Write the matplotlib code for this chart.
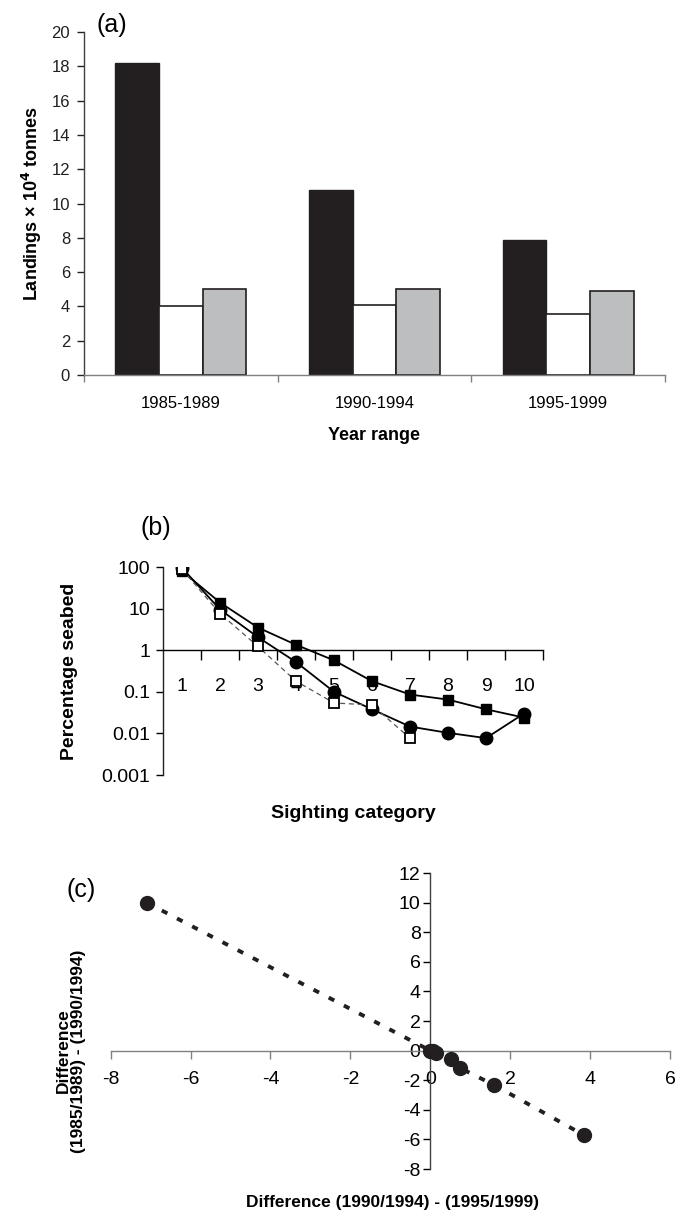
import matplotlib
matplotlib.use("Agg")
import matplotlib.pyplot as plt
import numpy as np
from matplotlib import font_manager
from matplotlib.ticker import FixedLocator, NullLocator, FixedFormatter

_names = {f.name for f in font_manager.fontManager.ttflist}
NARROW = "Liberation Sans Narrow" if "Liberation Sans Narrow" in _names else "Liberation Sans"

plt.rcParams.update(
    {
        "font.family": ["Liberation Sans", "DejaVu Sans"],
        "axes.spines.top": False,
        "axes.spines.right": False,
        "axes.linewidth": 1.0,
        "axes.unicode_minus": False,
    }
)

# (a) landings by period
periods = ["1985-1989", "1990-1994", "1995-1999"]
landings_black = [18.2, 10.8, 7.9]
landings_white = [4.0, 4.1, 3.55]
landings_grey = [5.0, 5.0, 4.9]

# (b) percentage seabed per sighting category
categories = list(range(1, 11))
seabed_filled_sq = [80, 14, 3.5, 1.35, 0.57, 0.18, 0.086, 0.065, 0.038, 0.024]
seabed_circle = [95, 9.5, 2.05, 0.52, 0.1, 0.038, 0.0146, 0.0103, 0.0077, 0.03]
seabed_open_sq = [88, 7.6, 1.23, 0.18, 0.054, 0.048, 0.0077]

# (c) differences between periods
diff_x = [-7.1, 0.0, 0.06, 0.14, 0.52, 0.74, 1.6, 3.85]
diff_y = [10.0, 0.0, -0.05, -0.18, -0.58, -1.17, -2.33, -5.72]

W, H = 686, 1212
fig = plt.figure(figsize=(W / 100, H / 100), dpi=100)


def rect(left, top, right, bottom):
    return [left / W, 1 - bottom / H, (right - left) / W, (bottom - top) / H]


# ---------------- (a) ----------------
ax = fig.add_axes(rect(84, 32, 665, 375))
x = np.arange(len(periods))
w = 0.225
ax.bar(x - w, landings_black, w, color="#231f20", edgecolor="#231f20", linewidth=1)
ax.bar(x, landings_white, w, color="white", edgecolor="#231f20", linewidth=1.2)
ax.bar(x + w, landings_grey, w, color="#bcbec0", edgecolor="#231f20", linewidth=1.2)
ax.set_xlim(-0.5, 2.5)
ax.set_ylim(0, 20)
ax.set_yticks(np.arange(0, 21, 2))
ax.tick_params(axis="y", direction="out", length=5, width=1, pad=5,
               labelsize=12, colors="#231f20")
ax.set_xticks(x)
ax.set_xticklabels(periods)
ax.xaxis.set_minor_locator(FixedLocator([-0.5, 0.5, 1.5, 2.5]))
ax.tick_params(axis="x", which="major", length=0, pad=15, labelsize=12)
ax.tick_params(axis="x", which="minor", length=5, width=1, color="#808080")
ax.spines["left"].set_color("#404040")
ax.spines["bottom"].set_color("#808080")
ax.set_ylabel("Landings \u00d7 10$^{\\mathbf{4}}$ tonnes", fontsize=13,
              fontweight="bold", va="center")
ax.yaxis.set_label_coords(-0.089, 0.5)
ax.set_xlabel("Year range", fontsize=13, fontweight="bold", va="center")
ax.xaxis.set_label_coords(0.5, -0.175)
fig.text(112 / W, 1 - 25 / H, "(a)", fontsize=18, ha="center", va="center")

# ---------------- (b) ----------------
ax = fig.add_axes(rect(163, 567, 543, 775))
ax.set_yscale("log")
ax.set_ylim(0.001, 100)
ax.set_xlim(0.5, 10.5)
ax.plot(categories, seabed_filled_sq, "-s", color="black", lw=1.3,
        ms=7, mfc="black", mec="black", zorder=3)
ax.plot(categories, seabed_circle, "-o", color="black", lw=1.3,
        ms=9, mfc="black", mec="black", zorder=4)
ax.plot(categories[: len(seabed_open_sq)], seabed_open_sq, color="#555555",
        lw=0.9, ls=(0, (4, 3)), marker="s", ms=7, mfc="white", mec="black",
        mew=1.3, zorder=5)
ax.spines["bottom"].set_position(("data", 1))
ax.spines["bottom"].set_color("black")
ax.spines["left"].set_color("#231f20")
yt = [0.001, 0.01, 0.1, 1, 10, 100]
ax.yaxis.set_major_locator(FixedLocator(yt))
ax.yaxis.set_major_formatter(FixedFormatter(["0.001", "0.01", "0.1", "1", "10", "100"]))
ax.yaxis.set_minor_locator(NullLocator())
ax.tick_params(axis="y", direction="out", length=5, width=1, pad=4, labelsize=14)
ax.xaxis.set_major_locator(FixedLocator(np.arange(1.5, 11, 1.0)))
ax.xaxis.set_major_formatter(FixedFormatter([]))
ax.xaxis.set_minor_locator(FixedLocator(categories))
ax.xaxis.set_minor_formatter(FixedFormatter([str(c) for c in categories]))
ax.tick_params(axis="x", which="major", direction="out", length=7, width=1)
ax.tick_params(axis="x", which="minor", length=0, pad=20, labelsize=14)
for lab in ax.get_yticklabels() + ax.xaxis.get_minorticklabels():
    lab.set_fontfamily([NARROW, "Liberation Sans"])
ax.set_ylabel("Percentage seabed", fontsize=14, fontweight="bold", va="center")
ax.yaxis.set_label_coords(-0.245, 0.5)
ax.set_xlabel("Sighting category", fontsize=14, fontweight="bold", va="center")
ax.xaxis.set_label_coords(0.5, -0.183)
fig.text(156 / W, 1 - 528 / H, "(b)", fontsize=18, ha="center", va="center")

# ---------------- (c) ----------------
ax = fig.add_axes(rect(110.7, 873, 670, 1169))
ax.set_xlim(-8, 6)
ax.set_ylim(-8, 12)
ax.plot(diff_x, diff_y, color="#231f20", lw=2.8, ls=(0, (1.6, 2.8)),
        dash_capstyle="butt", zorder=2)
ax.plot(diff_x, diff_y, "o", color="#231f20", ms=10, zorder=3)
ax.spines["left"].set_position(("data", 0))
ax.spines["bottom"].set_position(("data", 0))
ax.spines["left"].set_color("#404040")
ax.spines["bottom"].set_color("#808080")
ax.set_xticks(np.arange(-8, 7, 2))
ax.set_yticks(np.arange(-8, 13, 2))
ax.tick_params(axis="x", direction="out", length=6, width=1, pad=9,
               labelsize=14, color="#808080")
ax.tick_params(axis="y", direction="out", length=5, width=1, pad=2, labelsize=14)
for lab in ax.get_xticklabels() + ax.get_yticklabels():
    lab.set_fontfamily([NARROW, "Liberation Sans"])
fig.text(71 / W, 1 - 1051 / H, "Difference\n(1985/1989) - (1990/1994)",
         rotation=90, fontsize=12.5, fontweight="bold", ha="center", va="center",
         linespacing=1.0)
fig.text(392 / W, 1 - 1202 / H, "Difference (1990/1994) - (1995/1999)",
         fontsize=12.5, fontweight="bold", ha="center", va="center")
fig.text(81 / W, 1 - 890 / H, "(c)", fontsize=18, ha="center", va="center")

fig.savefig("out.png", dpi=100)
